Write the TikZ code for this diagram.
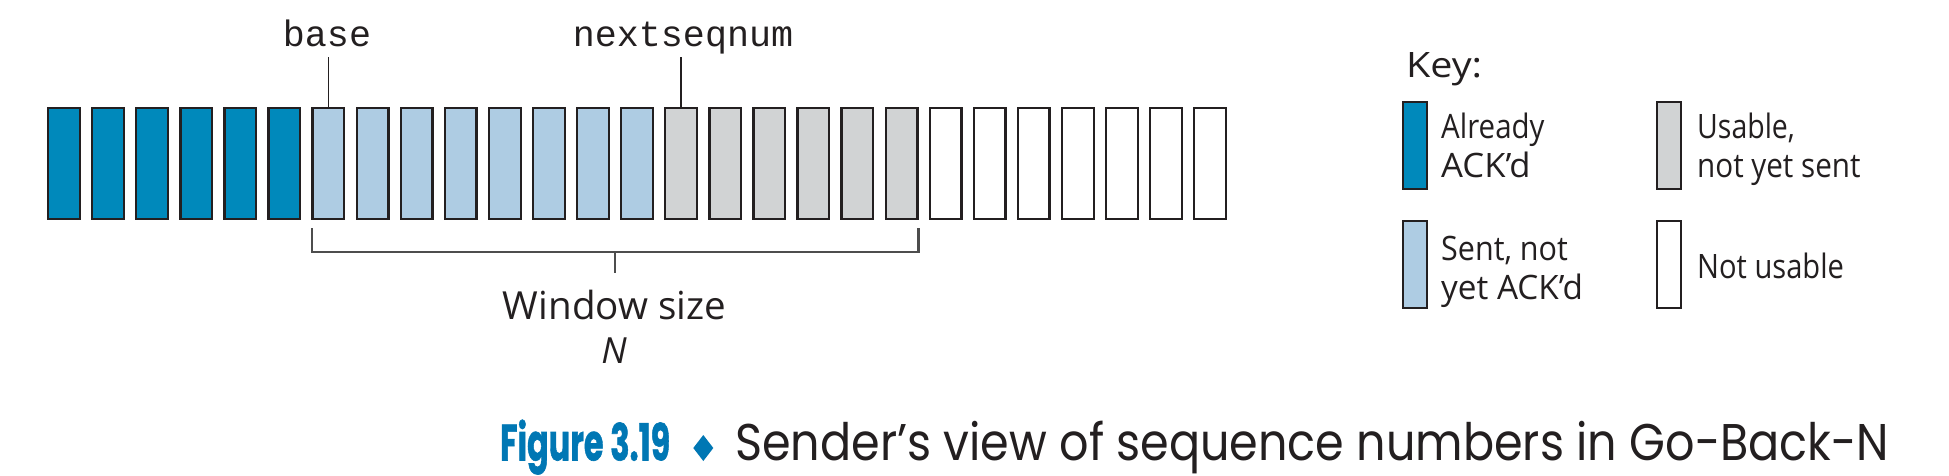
\documentclass[tikz,border=0pt]{standalone}
\usepackage{fontspec}
\usepackage{graphicx}
\setmainfont{Open Sans}
\newfontfamily\monof{Liberation Mono}
\newfontfamily\capf{Poppins}
\newfontfamily\capbf[BoldFeatures={FakeBold=1.2}]{Poppins}
\definecolor{ink}{HTML}{231F20}
\definecolor{acked}{HTML}{0089BB}
\definecolor{sent}{HTML}{AECCE3}
\definecolor{usable}{HTML}{D1D3D4}
\definecolor{brkgray}{HTML}{4D4D4D}
\definecolor{capblue}{HTML}{0077B4}
\newcommand\fitcap[3]{\resizebox{#1}{#2}{\raisebox{0pt}[\fontcharht\font`H][0pt]{#3}}}
\tikzset{
  cell/.style={draw=ink, line width=2.3pt, minimum width=31.7pt, minimum height=110.7pt, inner sep=0pt},
  keybox/.style={cell, minimum width=23.7pt, minimum height=86.7pt},
  lbl/.style={anchor=base west, inner sep=0pt, text=ink},
  clbl/.style={anchor=base, inner sep=0pt, text=ink},
  tick/.style={draw=ink, line width=1.8pt},
  brk/.style={draw=brkgray, line width=2.3pt},
}
\begin{document}
\begin{tikzpicture}[x=1pt,y=-1pt]
\useasboundingbox (0,0) rectangle (1949,475);
\fill[white] (0,0) rectangle (1949,475);
% sequence number cells
\foreach \i in {0,...,26}{
  \pgfmathsetmacro\cx{64+44.08*\i}
  \ifnum\i<6 \def\fc{acked}\else\ifnum\i<14 \def\fc{sent}\else\ifnum\i<20 \def\fc{usable}\else\def\fc{white}\fi\fi\fi
  \node[cell, fill=\fc] (c\i) at (\cx,163.5) {};
}
% pointer labels
\node[clbl] (base) at (327,46) {\monof\fontsize{36.7}{40}\selectfont base};
\node[clbl] (next) at (683,46) {\monof\fontsize{36.7}{40}\selectfont nextseqnum};
\coordinate (bt) at (c6.north |- 0,57);
\coordinate (nt) at (c14.north |- 0,57);
\draw[tick] (bt) -- (c6.north);
\draw[tick] (nt) -- (c14.north);
% window bracket
\coordinate (bl1) at (312,228);
\coordinate (bl2) at (312,252);
\coordinate (br2) at (918.5,252);
\coordinate (br1) at (918.5,228);
\coordinate (bm) at (615,252);
\coordinate (bmt) at (615,273);
\draw[brk] (bl1) -- (bl2) -- (br2) -- (br1);
\draw[brk, line width=1.8pt] (bm) -- (bmt);
\node[clbl] (win) at (614.5,319.3) {\fitcap{223pt}{27.6pt}{Window size}};
\node[clbl] (winN) at (614,363) {\fontsize{36}{36}\selectfont\itshape N};
% key
\node[lbl] (key) at (1406,77) {\fitcap{76pt}{25pt}{Key:}};
\node[keybox, fill=acked] (k1) at (1415,145.5) {};
\node[keybox, fill=usable] (k2) at (1669,145.5) {};
\node[keybox, fill=sent] (k3) at (1415,264.5) {};
\node[keybox, fill=white] (k4) at (1669,264.5) {};
\node[lbl] (k1a) at (1441,138.3) {\fitcap{103.3pt}{24pt}{Already}};
\node[lbl] (k1b) at (1441,177.3) {\fitcap{89.3pt}{24pt}{ACK’d}};
\node[lbl] (k2a) at (1697,138.6) {\fitcap{97.7pt}{24pt}{Usable,}};
\node[lbl] (k2b) at (1697,177.3) {\fitcap{163.3pt}{24pt}{not yet sent}};
\node[lbl] (k3a) at (1441,260.7) {\fitcap{126.7pt}{24pt}{Sent, not}};
\node[lbl] (k3b) at (1441,299.3) {\fitcap{141.7pt}{24pt}{yet ACK’d}};
\node[lbl] (k4a) at (1697,278) {\fitcap{146.7pt}{24pt}{Not usable}};
% caption
\node[lbl, text=capblue] (fig) at (500,460.5) {\capbf\bfseries\fitcap{170pt}{36pt}{Figure 3.19}};
\fill[capblue] (703.3,435) -- (713.3,448) -- (703.3,461) -- (693.3,448) -- cycle;
\node[lbl] (cap) at (735,460.5) {\capf\fitcap{1154pt}{36pt}{Sender’s view of sequence numbers in Go-Back-N}};
\end{tikzpicture}
\end{document}
